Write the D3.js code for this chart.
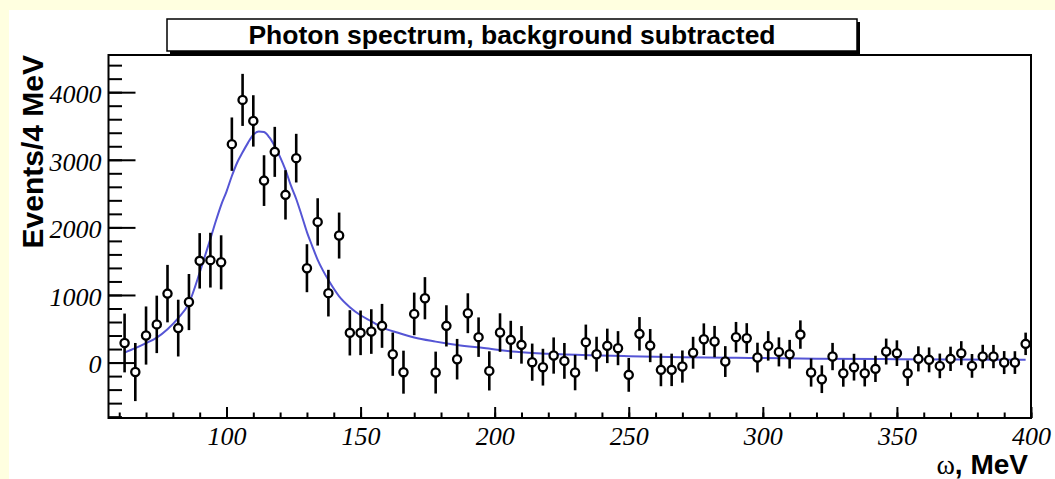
<!DOCTYPE html>
<html>
<head>
<meta charset="utf-8">
<script src="https://cdn.jsdelivr.net/npm/d3@7"></script>
<style>
  body { margin: 0; background: #ffffe0; }
  svg { display: block; }
</style>
</head>
<body>
<div id="chart"></div>
<script>
// bin centres, 4 MeV bins
const binCenters = d3.range(62, 400, 4);
const counts = [
  290, -140, 400, 565, 1020, 510, 895, 1505, 1515, 1483,
  3231, 3886, 3575, 2692, 3117, 2481, 3024, 1396, 2081, 1027,
  1879, 440, 440, 459, 543, 124, -142, 720, 952, -148,
  543, 50, 730, 376, -123, 444, 336, 262, 6, -68,
  104, 25, -148, 302, 124, 247, 213, -182, 425, 251,
  -108, -108, -59, 145, 346, 311, 15, 376, 361, 74,
  247, 158, 124, 414, -148, -246, 89, -157, -68, -157,
  -93, 163, 139, -157, 55, 40, -49, 55, 139, -49,
  89, 89, 0, 0, 277
];
const errors = [
  435, 430, 430, 425, 425, 420, 415, 410, 405, 400,
  395, 385, 380, 375, 370, 365, 360, 355, 350, 345,
  340, 335, 330, 330, 325, 320, 318, 315, 312, 310,
  305, 300, 295, 292, 290, 285, 282, 278, 275, 272,
  268, 265, 262, 260, 258, 255, 252, 250, 248, 245,
  242, 240, 238, 236, 234, 231, 228, 225, 222, 220,
  218, 215, 212, 210, 208, 205, 202, 200, 198, 196,
  194, 192, 190, 188, 186, 184, 182, 180, 178, 176,
  174, 172, 170, 168, 166
];

// fit curve
const fitX = [62, 66, 70, 74, 78, 82, 86, 90, 92, 94, 96, 98, 100, 102, 104, 106, 108, 110, 112, 114,
  116, 118, 120, 122, 124, 126, 128, 130, 132, 134, 136, 138, 142, 146, 150, 154, 158, 164, 170,
  178, 186, 196, 208, 220, 235, 250, 270, 290, 320, 350, 398];
const fitY = [148, 213, 287, 370, 494, 657, 879, 1330, 1580, 1830, 2090, 2330, 2530, 2760, 2960, 3110, 3250, 3370, 3420, 3410,
  3330, 3200, 3040, 2850, 2620, 2420, 2180, 1930, 1720, 1520, 1360, 1220, 980, 820, 700, 610, 520, 440, 370,
  310, 260, 215, 160, 130, 108, 95, 80, 70, 58, 50, 40];

const xMajor = [100, 150, 200, 250, 300, 350, 400];
const xMinor = d3.range(60, 401, 10);
const yMajor = [0, 1000, 2000, 3000, 4000];
const yMinor = d3.range(-800, 4401, 200);

const W = 1055, H = 479;
const frameL = 108.5, frameR = 1031, frameT = 55, frameB = 418;

const svg = d3.select('#chart').append('svg')
  .attr('width', W)
  .attr('height', H);

svg.append('rect').attr('width', W).attr('height', H).attr('fill', '#ffffe0');
svg.append('rect').attr('x', 9).attr('y', 10).attr('width', W - 9).attr('height', H - 10).attr('fill', '#fff');

const x = d3.scaleLinear().domain([56, 400]).range([frameL, frameR]);
const y = d3.scaleLinear().domain([-820, 4550]).range([frameB, frameT]);

// title box with shadow
svg.append('rect').attr('x', 170).attr('y', 22).attr('width', 690).attr('height', 32).attr('fill', '#000');
svg.append('rect').attr('x', 167).attr('y', 19).attr('width', 690).attr('height', 32)
  .attr('fill', '#fff').attr('stroke', '#000').attr('stroke-width', 1.5);
svg.append('text')
  .attr('x', 512).attr('y', 44)
  .attr('text-anchor', 'middle')
  .style('font-family', '"Liberation Sans", Arial, sans-serif')
  .style('font-weight', 'bold')
  .style('font-size', '26.5px')
  .text('Photon spectrum, background subtracted');

// frame
svg.append('rect')
  .attr('x', frameL).attr('y', frameT)
  .attr('width', frameR - frameL).attr('height', frameB - frameT)
  .attr('fill', 'none').attr('stroke', '#000').attr('stroke-width', 2);

// axes ticks (inward)
function tickAxis(axis, tr) {
  const g = svg.append('g').attr('transform', tr).call(axis);
  g.select('.domain').remove();
  g.selectAll('.tick line').attr('stroke', '#000').attr('stroke-width', 2);
  return g;
}
tickAxis(d3.axisTop(x).tickValues(xMinor).tickSize(5.5).tickFormat(''), `translate(0,${frameB})`);
tickAxis(d3.axisTop(x).tickValues(xMajor).tickSize(11).tickFormat(''), `translate(0,${frameB})`);
tickAxis(d3.axisRight(y).tickValues(yMinor).tickSize(13.5).tickFormat(''), `translate(${frameL},0)`);
tickAxis(d3.axisRight(y).tickValues(yMajor).tickSize(27).tickFormat(''), `translate(${frameL},0)`);

// tick labels
const xl = tickAxis(d3.axisBottom(x).tickValues(xMajor).tickSize(0).tickPadding(9).tickFormat(d3.format('d')), `translate(0,${frameB})`);
xl.selectAll('text')
  .style('font-family', '"Liberation Serif", "Times New Roman", serif')
  .style('font-style', 'italic')
  .style('font-size', '26px')
  .attr('fill', '#000');
const yl = tickAxis(d3.axisLeft(y).tickValues(yMajor).tickSize(0).tickPadding(7).tickFormat(d3.format('d')), `translate(${frameL},2)`);
yl.selectAll('text')
  .style('font-family', '"Liberation Serif", "Times New Roman", serif')
  .style('font-style', 'italic')
  .style('font-size', '26px')
  .attr('fill', '#000');

// axis titles
svg.append('text')
  .attr('transform', 'translate(43,55) rotate(-90)')
  .attr('text-anchor', 'end')
  .style('font-family', '"Liberation Sans", Arial, sans-serif')
  .style('font-weight', 'bold')
  .style('font-size', '30px')
  .text('Events/4 MeV');

const xt = svg.append('text')
  .attr('x', 1028).attr('y', 474)
  .attr('text-anchor', 'end')
  .style('font-family', '"Liberation Sans", Arial, sans-serif')
  .style('font-weight', 'bold')
  .style('font-size', '28px');
xt.append('tspan')
  .style('font-family', '"Liberation Serif", "Times New Roman", serif')
  .style('font-weight', 'normal')
  .text('ω');
xt.append('tspan').text(', MeV');

// fit curve
const fit = fitX.map((d, i) => [d, fitY[i]]);
svg.append('path')
  .datum(fit)
  .attr('fill', 'none')
  .attr('stroke', '#5555d5')
  .attr('stroke-width', 2)
  .attr('d', d3.line().x(d => x(d[0])).y(d => y(d[1])).curve(d3.curveMonotoneX));

// data points
const pts = binCenters.map((c, i) => ({ c: c, v: counts[i], e: errors[i] }));
const pg = svg.append('g').selectAll('g').data(pts).enter().append('g');
pg.append('line')
  .attr('x1', d => x(d.c)).attr('x2', d => x(d.c))
  .attr('y1', d => y(d.v - d.e)).attr('y2', d => y(d.v + d.e))
  .attr('stroke', '#000').attr('stroke-width', 2.6);
pg.append('circle')
  .attr('cx', d => x(d.c)).attr('cy', d => y(d.v))
  .attr('r', 4.1)
  .attr('fill', '#fff').attr('stroke', '#000').attr('stroke-width', 2.3);
</script>
</body>
</html>
